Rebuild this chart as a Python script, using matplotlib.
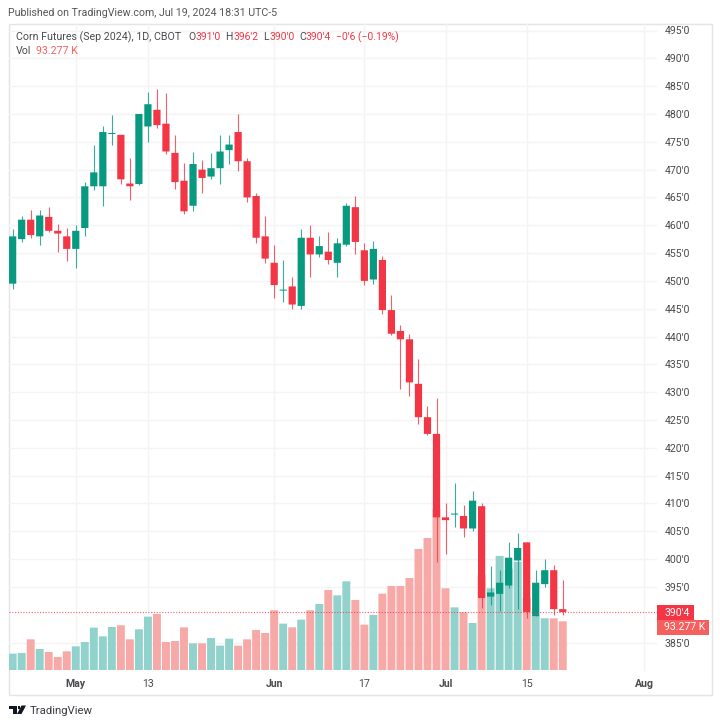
import matplotlib
matplotlib.use("Agg")
import matplotlib.pyplot as plt
from matplotlib.patches import Polygon, Rectangle

# one trading day per entry, index 0 = Apr 22 2024
opens = [449.5, 457.5, 461.0, 458.0, 461.5, 459.0, 458.0, 455.75, 459.5, 467.0, 467.0, 476.4,
         476.25, 467.5, 467.4, 477.75, 480.75, 478.25, 473.0, 468.0, 463.5, 470.0, 468.75, 470.25,
         473.5, 476.75, 471.5, 465.25, 458.0, 453.25, 448.25, 449.0, 445.5, 457.75, 454.75, 455.25,
         453.25, 456.5, 463.25, 455.5, 450.25, 453.75, 444.75, 441.0, 439.5, 431.5, 425.5, 422.5,
         407.5, 408.0, 407.75, 405.5, 409.5, 393.25, 393.75, 395.25, 399.75, 403.0, 389.75, 395.5,
         398.0, 391.0]
highs = [459.25, 461.75, 462.75, 462.75, 463.25, 460.25, 459.5, 460.0, 467.75, 474.5, 477.75, 479.75,
         476.25, 472.0, 480.0, 484.0, 484.5, 483.75, 476.25, 471.25, 473.25, 471.75, 473.0, 476.25,
         476.25, 480.0, 472.0, 465.75, 461.75, 456.5, 453.75, 450.75, 459.25, 460.0, 458.0, 458.75,
         457.75, 464.0, 465.25, 456.75, 457.25, 454.5, 447.5, 442.0, 440.5, 436.0, 427.5, 429.0,
         410.0, 413.75, 409.75, 412.25, 410.0, 398.75, 398.0, 403.0, 404.75, 403.0, 398.0, 400.0,
         399.0, 396.25]
lows = [448.5, 457.0, 457.75, 456.5, 458.75, 455.25, 453.5, 452.25, 458.0, 466.25, 463.5, 474.5,
        467.5, 464.5, 467.25, 475.0, 477.5, 472.75, 466.5, 462.0, 462.5, 465.75, 468.25, 467.5,
        471.0, 469.75, 464.25, 456.75, 453.25, 447.0, 446.25, 445.0, 445.0, 450.75, 454.25, 453.0,
        450.75, 456.25, 454.75, 449.25, 449.5, 444.0, 440.25, 430.5, 429.25, 424.25, 422.25, 399.5,
        401.0, 405.75, 404.0, 405.0, 391.25, 391.75, 390.75, 394.75, 391.0, 389.5, 389.75, 395.0,
        390.0, 390.0]
closes = [458.0, 461.0, 458.25, 461.75, 459.0, 458.5, 455.75, 459.0, 467.0, 469.5, 476.75, 476.5,
          468.25, 467.0, 480.0, 481.75, 478.0, 473.25, 467.75, 462.5, 471.0, 468.5, 470.25, 473.25,
          474.5, 471.5, 465.0, 457.75, 454.0, 449.25, 448.25, 445.75, 457.75, 454.75, 456.25, 453.75,
          456.75, 463.5, 457.0, 450.0, 455.75, 444.75, 440.5, 439.5, 431.75, 425.5, 422.5, 407.5,
          407.0, 408.0, 405.5, 410.5, 393.0, 394.0, 395.75, 400.25, 402.0, 390.5, 395.75, 398.0,
          391.0, 390.5]
# thousands of contracts
volumes = [31.3, 32.6, 58.7, 40.2, 34.5, 24.9, 35.8, 45.3, 53.6, 81.1, 64.5, 82.4,
           85.6, 58.7, 77.9, 102.2, 107.3, 53.6, 55.5, 81.7, 51.1, 51.1, 61.3, 46.6,
           60.0, 46.6, 58.7, 76.6, 70.9, 114.3, 88.8, 81.7, 96.4, 114.3, 126.4, 153.2,
           143.0, 169.8, 134.1, 86.8, 105.4, 146.2, 160.9, 160.9, 176.2, 231.8, 252.8, 308.4,
           156.4, 120.0, 110.5, 90.0, 181.3, 156.4, 218.4, 194.1, 207.5, 137.9, 103.4, 99.0,
           99.0, 93.277]

x_tick_pos = [7, 15, 29, 39, 48, 57, 70]
x_tick_labels = ["May", "13", "Jun", "17", "Jul", "15", "Aug"]
x_tick_bold = [True, False, True, False, True, False, True]
price_ticks = [385] + list(range(395, 500, 5))

UP = "#089981"
DOWN = "#F23645"
UP_VOL = "#92D2CC"
DOWN_VOL = "#F7A9A7"
VOL_BADGE = "#F5605E"
GRID = "#F4F4F5"
TEXT = "#4A4A4F"
FONT = "Roboto"

W, H = 720, 726
L, R, T, B = 8.5, 657, 23.5, 695

plt.rcParams["font.family"] = [FONT, "DejaVu Sans"]
fig = plt.figure(figsize=(W / 100, H / 100), dpi=100)


def add_layer(zorder):
    layer = fig.add_axes([L / W, 1 - B / H, (R - L) / W, (B - T) / H], zorder=zorder)
    layer.set_xlim(-0.46, 71.45)
    layer.patch.set_visible(False)
    for s in layer.spines.values():
        s.set_visible(False)
    return layer


grid_ax = add_layer(1)
vol_ax = add_layer(2)
ax = add_layer(3)

# price scale: 5.564 px per cent, 495 sits at y=30.5
price_top = 495 + (30.5 - T) / 5.564
price_bottom = 495 - (B - 30.5) / 5.564
grid_ax.set_ylim(price_bottom, price_top)
ax.set_ylim(price_bottom, price_top)

# volume base sits at y=670, 1.915K per px
vol_ax.set_ylim(-(B - 670) * 1.915, (670 - T) * 1.915)
vol_ax.set_xticks([])
vol_ax.set_yticks([])

ax.set_xticks([])
ax.set_yticks([])

grid_ax.set_yticks(price_ticks)
grid_ax.set_yticklabels([f"{p}'0" for p in price_ticks])
grid_ax.yaxis.tick_right()
grid_ax.tick_params(axis="y", length=0, pad=5.5, labelsize=7.6, labelcolor=TEXT)
grid_ax.set_xticks(x_tick_pos)
grid_ax.set_xticklabels(x_tick_labels)
grid_ax.tick_params(axis="x", length=0, pad=-11.5, labelsize=7.6, labelcolor=TEXT)
for lab, bold in zip(grid_ax.get_xticklabels(), x_tick_bold):
    if bold:
        lab.set_fontweight("bold")
grid_ax.grid(True, color=GRID, lw=1)
grid_ax.set_axisbelow(True)
# vertical grid stops at the volume base
for gl in grid_ax.get_xgridlines():
    gl.set_ydata([0.037, 1])

for i in range(len(closes)):
    rising = closes[i] >= opens[i]
    # snap off keeps the gaps even, with the soft edges of the original
    vol_ax.bar(i, volumes[i], width=0.88, color=UP_VOL if rising else DOWN_VOL, lw=0, snap=False)
    c = UP if rising else DOWN
    ax.vlines(i, lows[i], highs[i], color=c, lw=0.8, alpha=0.8)
    bottom = min(opens[i], closes[i])
    height = max(abs(closes[i] - opens[i]), 0.18)
    ax.bar(i, height, bottom=bottom, width=0.8, color=c, lw=0, snap=False)

last_close = closes[-1]
ax.axhline(last_close, color=DOWN, lw=0.8, ls=(0, (1, 1.5)), alpha=0.8)

# outer frame
fig.add_artist(Rectangle((L / W, 1 - B / H), (711.5 - L) / W, (B - T) / H, transform=fig.transFigure,
                         fill=False, ec="#E4E4E6", lw=1))


def px_box(x0, y0, x1, y1, col):
    fig.add_artist(Rectangle((x0 / W, 1 - y1 / H), (x1 - x0) / W, (y1 - y0) / H, transform=fig.transFigure,
                             fc=col, ec="none"))


def px_text(x, y, s, **kw):
    return fig.text(x / W, 1 - y / H, s, va="center", **kw)


# last value badges on the right scale
px_box(656.7, 605, 694, 620, DOWN)
px_box(656.7, 620, 709, 634.7, VOL_BADGE)
px_text(664.5, 612.5, "390'4", color="white", fontsize=7.6)
px_text(664.5, 627.5, "93.277 K", color="white", fontsize=7.6)

px_text(8, 13.5, "Published on TradingView.com, Jul 19, 2024 18:31 UTC-5", color="#55555A", fontsize=7.65)
px_text(15.5, 37, "Corn Futures (Sep 2024), 1D, CBOT", color=TEXT, fontsize=7.7)
for x, s, col in [(188, "O", TEXT), (195, "391'0", DOWN), (225.5, "H", TEXT), (233, "396'2", DOWN),
                  (263, "L", TEXT), (269, "390'0", DOWN), (299, "C", TEXT), (305.5, "390'4", DOWN),
                  (335.5, "−0'6 (−0.19%)", DOWN)]:
    px_text(x, 37, s, color=col, fontsize=7.5)
px_text(15.5, 51.5, "Vol", color=TEXT, fontsize=7.7)
px_text(36.5, 51.5, "93.277 K", color=VOL_BADGE, fontsize=7.7)


def px_poly(points, col):
    fig.add_artist(Polygon([(x / W, 1 - y / H) for x, y in points], transform=fig.transFigure, fc=col, ec="none"))


# TradingView logo
LOGO = "#131722"
px_poly([(8.5, 705.5), (16.5, 705.5), (16.5, 714), (12.5, 714), (12.5, 709), (8.5, 709)], LOGO)
px_poly([(17.5, 705.5), (20, 705.5), (20, 708.5), (17.5, 708.5)], LOGO)
px_poly([(21.5, 705.5), (26, 705.5), (21.5, 714), (17, 714)], LOGO)
px_text(29.5, 711, "TradingView", color="#3A3A40", fontsize=8.2)

fig.savefig("out.png", dpi=100, facecolor="white")
